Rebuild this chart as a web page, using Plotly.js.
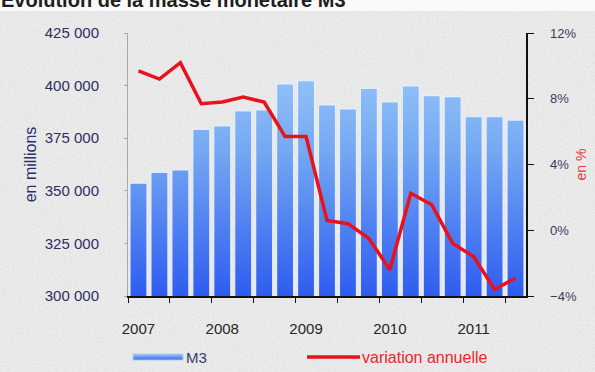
<!DOCTYPE html>
<html>
<head>
<meta charset="utf-8">
<script src="https://cdn.plot.ly/plotly-3.0.1.min.js"></script>
<style>
html,body{margin:0;padding:0;}
#chart{width:595px;height:372px;
background-color:#e4e4e4;
background-image:url("data:image/svg+xml;utf8,<svg xmlns='http://www.w3.org/2000/svg' width='595' height='372'><filter id='n'><feTurbulence type='fractalNoise' baseFrequency='0.75' numOctaves='3' seed='4'/><feColorMatrix values='0 0 0 0 0.62  0 0 0 0 0.62  0 0 0 0 0.64  1.1 0 0 0 -0.45'/></filter><rect width='100%' height='100%' fill='%23ececec'/><rect width='100%' height='100%' filter='url(%23n)'/></svg>");}
</style>
</head>
<body>
<div id="chart"></div>
<script>
// Quarterly data, 2007 Q1 -> 2011 Q3
const quarters = ["T1 2007","T2 2007","T3 2007","T4 2007","T1 2008","T2 2008","T3 2008","T4 2008",
  "T1 2009","T2 2009","T3 2009","T4 2009","T1 2010","T2 2010","T3 2010","T4 2010",
  "T1 2011","T2 2011","T3 2011"];
const m3Values = [353600, 358800, 359900, 379200, 380800, 388000, 388500, 400800,
  402300, 390800, 388900, 398700, 392300, 399800, 395200, 394800,
  385200, 385200, 383600];
const annualVariation = [9.7, 9.2, 10.2, 7.7, 7.8, 8.1, 7.8, 5.7,
  5.7, 0.6, 0.4, -0.5, -2.4, 2.25, 1.55, -0.8,
  -1.6, -3.6, -2.9];
const yearLabels = ["2007","2008","2009","2010","2011"];
const yearTickIdx = [0, 4, 8, 12, 16];

const xIdx = quarters.map((q, i) => i);

// pixel helpers for decorations (plot area 128..526 x 33..296)
const px = x => (x - 128) / 398;
const py = y => (296 - y) / 263;

const traces = [
  {
    type: 'bar', x: xIdx, y: m3Values, name: 'M3',
    marker: {color: '#6a9ff2', line: {color: 'rgba(232,242,255,0.9)', width: 1.2}},
    hoverinfo: 'y', showlegend: false
  },
  {
    type: 'scatter', mode: 'lines', x: xIdx, y: annualVariation, yaxis: 'y2',
    name: 'variation annuelle',
    line: {color: '#e8121c', width: 3.5},
    showlegend: false
  }
];

const layout = {
  width: 595, height: 372,
  margin: {l: 128, r: 69, t: 33, b: 76},
  paper_bgcolor: 'rgba(0,0,0,0)',
  plot_bgcolor: 'rgba(0,0,0,0)',
  separators: ', ',
  bargap: 0.19,
  font: {family: 'Liberation Sans, Arial, sans-serif'},
  xaxis: {
    range: [-0.5, 18.5],
    tickmode: 'array', tickvals: yearTickIdx, ticktext: yearLabels,
    ticks: 'outside', ticklen: 0,
    ticklabelstandoff: 18,
    tickfont: {size: 15, color: '#262626'},
    showline: true, linecolor: '#111', linewidth: 1.5,
    showgrid: false, zeroline: false,
    minor: {tick0: -0.5, dtick: 2, ticks: 'outside', ticklen: 5, tickcolor: '#111', showgrid: false}
  },
  yaxis: {
    range: [300000, 425000], dtick: 25000, tickformat: ',d',
    showline: true, linecolor: '#a8a8a8', linewidth: 1,
    ticks: 'outside', ticklen: 3, tickcolor: '#a8a8a8',
    ticklabelstandoff: 22,
    tickfont: {size: 15, color: '#2e2e66'},
    showgrid: false, zeroline: false,
    title: {text: 'en millions', font: {size: 16, color: '#2e2e6e'}, standoff: 4}
  },
  yaxis2: {
    overlaying: 'y', side: 'right',
    range: [-4, 12], dtick: 4, ticksuffix: '%',
    showline: true, linecolor: '#111', linewidth: 1.5,
    ticks: 'outside', ticklen: 6, tickcolor: '#111',
    ticklabelstandoff: 14,
    tickfont: {size: 13, color: '#3a3a58'},
    showgrid: false, zeroline: false,
    title: {text: 'en %', font: {size: 14, color: '#e83a3a'}, standoff: 0}
  },
  shapes: [
    {type: 'rect', xref: 'paper', yref: 'paper', x0: px(0), x1: px(595), y0: py(0), y1: py(11),
     fillcolor: 'rgba(255,255,255,0.75)', line: {width: 0}, layer: 'below'},
    {type: 'rect', xref: 'paper', yref: 'paper', x0: px(133), x1: px(183), y0: py(354), y1: py(360),
     fillcolor: '#5f93ee', line: {color: '#a9cdf8', width: 1}},
    {type: 'line', xref: 'paper', yref: 'paper', x0: px(307), x1: px(360), y0: py(357), y1: py(357),
     line: {color: '#e8121c', width: 3.5}}
  ],
  annotations: [
    {text: '<b>Evolution de la masse monétaire M3</b>', xref: 'paper', yref: 'paper',
     x: px(-1), y: py(13), xanchor: 'left', yanchor: 'bottom', showarrow: false,
     font: {size: 20, color: '#1e1e1e', family: 'Liberation Sans, Arial, sans-serif'}},
    {text: 'M3', xref: 'paper', yref: 'paper', x: px(184), y: py(357), xanchor: 'left', yanchor: 'middle',
     showarrow: false, font: {size: 15, color: '#3a3a6a'}},
    {text: 'variation annuelle', xref: 'paper', yref: 'paper', x: px(360), y: py(357), xanchor: 'left', yanchor: 'middle',
     showarrow: false, font: {size: 16, color: '#e82828'}}
  ]
};

Plotly.newPlot('chart', traces, layout, {displayModeBar: false, staticPlot: true}).then(gd => {
  const svg = gd.querySelector('.main-svg');
  const ns = 'http://www.w3.org/2000/svg';
  let defs = svg.querySelector('defs');
  if (!defs) { defs = document.createElementNS(ns, 'defs'); svg.insertBefore(defs, svg.firstChild); }
  const h = gd._fullLayout._size.h;
  const grad = document.createElementNS(ns, 'linearGradient');
  grad.setAttribute('id', 'barGrad');
  grad.setAttribute('gradientUnits', 'userSpaceOnUse');
  grad.setAttribute('x1', '0'); grad.setAttribute('y1', '0');
  grad.setAttribute('x2', '0'); grad.setAttribute('y2', String(h));
  [['0', '#a4d0fb'], ['0.45', '#74a8f2'], ['1', '#2e5cf0']].forEach(([o, c]) => {
    const s = document.createElementNS(ns, 'stop');
    s.setAttribute('offset', o); s.setAttribute('stop-color', c);
    grad.appendChild(s);
  });
  defs.appendChild(grad);
  gd.querySelectorAll('.trace.bars .point path').forEach(p => { p.style.fill = 'url(#barGrad)'; });
  // legend swatch gradient (horizontal)
  const lg = document.createElementNS(ns, 'linearGradient');
  lg.setAttribute('id', 'legGrad');
  lg.setAttribute('x1', '0'); lg.setAttribute('y1', '0');
  lg.setAttribute('x2', '0'); lg.setAttribute('y2', '1');
  [['0', '#9cc8fa'], ['1', '#3566ee']].forEach(([o, c]) => {
    const s = document.createElementNS(ns, 'stop');
    s.setAttribute('offset', o); s.setAttribute('stop-color', c);
    lg.appendChild(s);
  });
  defs.appendChild(lg);
  const shp = gd.querySelectorAll('.shapelayer path');
  if (shp[1]) shp[1].style.fill = 'url(#legGrad)';
});
</script>
</body>
</html>
